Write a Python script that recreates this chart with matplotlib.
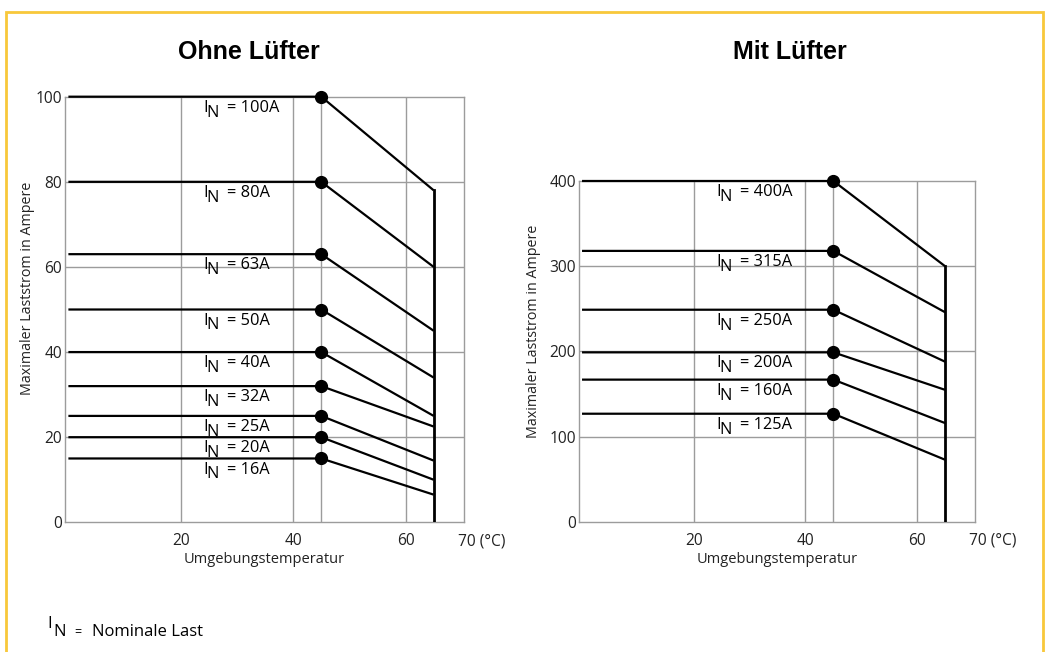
import matplotlib
matplotlib.use("Agg")
from matplotlib import pyplot as plt
from matplotlib.patches import Rectangle

# Nennströme und Kennlinien (Strom bei 45 °C und bei 65 °C)
ohne_labels = ["100A", "80A", "63A", "50A", "40A", "32A", "25A", "20A", "16A"]
ohne_start = [100, 80, 63, 50, 40, 32, 25, 20, 15]
ohne_end = [78, 60, 45, 34, 25, 22.5, 14.5, 10, 6.5]

mit_labels = ["400A", "315A", "250A", "200A", "160A", "125A"]
mit_start = [400, 318, 249, 199, 167, 127]
mit_end = [300, 246, 188, 155, 116, 73]

temp_knee = 45
temp_max = 65
x_ticks = [20, 40, 60]
x_grid = [20, 40, 45, 60]
ohne_yticks = [0, 20, 40, 60, 80, 100]
mit_yticks = [0, 100, 200, 300, 400]

font = ["Open Sans", "DejaVu Sans"]
plt.rcParams["font.family"] = font
grid_col = "#9c9c9c"
fs = 11.2
lab_fs = 11.8

fig = plt.figure(figsize=(10.47, 6.52), dpi=100)


def draw(ax, labels, start, end, yticks, ylab_x, ylab_y, xlab_off):
    ymax = yticks[-1]
    ax.set_xlim(-0.6, 70.4)
    ax.set_ylim(0, ymax)
    for x in x_grid:
        ax.axvline(x, color=grid_col, lw=1.0, zorder=1)
    for y in yticks[1:-1]:
        ax.axhline(y, color=grid_col, lw=1.0, zorder=1)
    for s in ax.spines.values():
        s.set_color(grid_col)
        s.set_linewidth(1.0)

    for lab, a, b in zip(labels, start, end):
        ax.plot([0, temp_knee, temp_max], [a, a, b], color="black", lw=1.6,
                clip_on=False, zorder=3, solid_capstyle="butt")
        ax.plot([temp_knee], [a], "o", color="black", ms=8.5, zorder=4, clip_on=False)
        ax.annotate("I", xy=(24, a), xytext=(0, -8), textcoords="offset points",
                    ha="left", va="center", fontsize=lab_fs)
        ax.annotate("N", xy=(24, a), xytext=(2.2, -11.5), textcoords="offset points",
                    ha="left", va="center", fontsize=lab_fs)
        ax.annotate("= " + lab, xy=(24, a), xytext=(17, -8), textcoords="offset points",
                    ha="left", va="center", fontsize=lab_fs)
    ax.plot([temp_max, temp_max], [0, max(end)], color="black", lw=2.0, zorder=3)

    ax.set_xticks(x_ticks)
    ax.set_xticklabels([str(t) for t in x_ticks])
    ax.set_yticks(yticks)
    ax.set_yticklabels([str(t) for t in yticks])
    ax.tick_params(length=0, labelsize=fs, labelcolor="#222222")
    ax.tick_params(axis="x", pad=8)
    ax.tick_params(axis="y", pad=2)
    ax.annotate("70 (°C)", xy=(70, 0), xytext=(-3, -13.5), textcoords="offset points",
                ha="left", va="center", fontsize=fs, color="#222222",
                annotation_clip=False)
    ax.annotate("Umgebungstemperatur", xy=(0.5, 0), xycoords="axes fraction",
                xytext=(0, xlab_off), textcoords="offset points",
                ha="center", va="center", fontsize=10.5, color="#222222")
    ax.text(ylab_x, ylab_y, "Maximaler Laststrom in Ampere", transform=ax.transAxes,
            rotation=90, ha="center", va="center", fontsize=10.3, color="#222222")


ax1 = fig.add_axes([0.0621, 0.1989, 0.3811, 0.6528])
draw(ax1, ohne_labels, ohne_start, ohne_end, ohne_yticks, -0.093, 0.55, -27)

ax2 = fig.add_axes([0.5527, 0.1994, 0.3788, 0.5230])
draw(ax2, mit_labels, mit_start, mit_end, mit_yticks, -0.115, 0.56, -27)

title_font = ["Liberation Sans", "DejaVu Sans"]
fig.text(249 / 1047, 1 - 59 / 652, "Ohne Lüfter", ha="center", va="baseline",
         fontsize=18, fontweight="bold", family=title_font)
fig.text(790 / 1047, 1 - 59 / 652, "Mit Lüfter", ha="center", va="baseline",
         fontsize=18, fontweight="bold", family=title_font)

# Fußnote
fig.text(47 / 1047, 1 - 628 / 652, "I", ha="left", va="baseline", fontsize=12)
fig.text(53 / 1047, 1 - 636 / 652, "N", ha="left", va="baseline", fontsize=12)
fig.text(74 / 1047, 1 - 636 / 652, "=", ha="left", va="baseline", fontsize=9)
fig.text(92 / 1047, 1 - 636 / 652, "Nominale Last", ha="left", va="baseline", fontsize=12)

# gelber Rahmen, unten offen
fig.patches.append(Rectangle((6 / 1047, -0.1), (1042.7 - 6) / 1047, 1.1 - 12 / 652,
                             transform=fig.transFigure, fill=False,
                             edgecolor="#F8C83A", lw=2.0, zorder=0))

fig.savefig("out.png", dpi=100, facecolor="white")
